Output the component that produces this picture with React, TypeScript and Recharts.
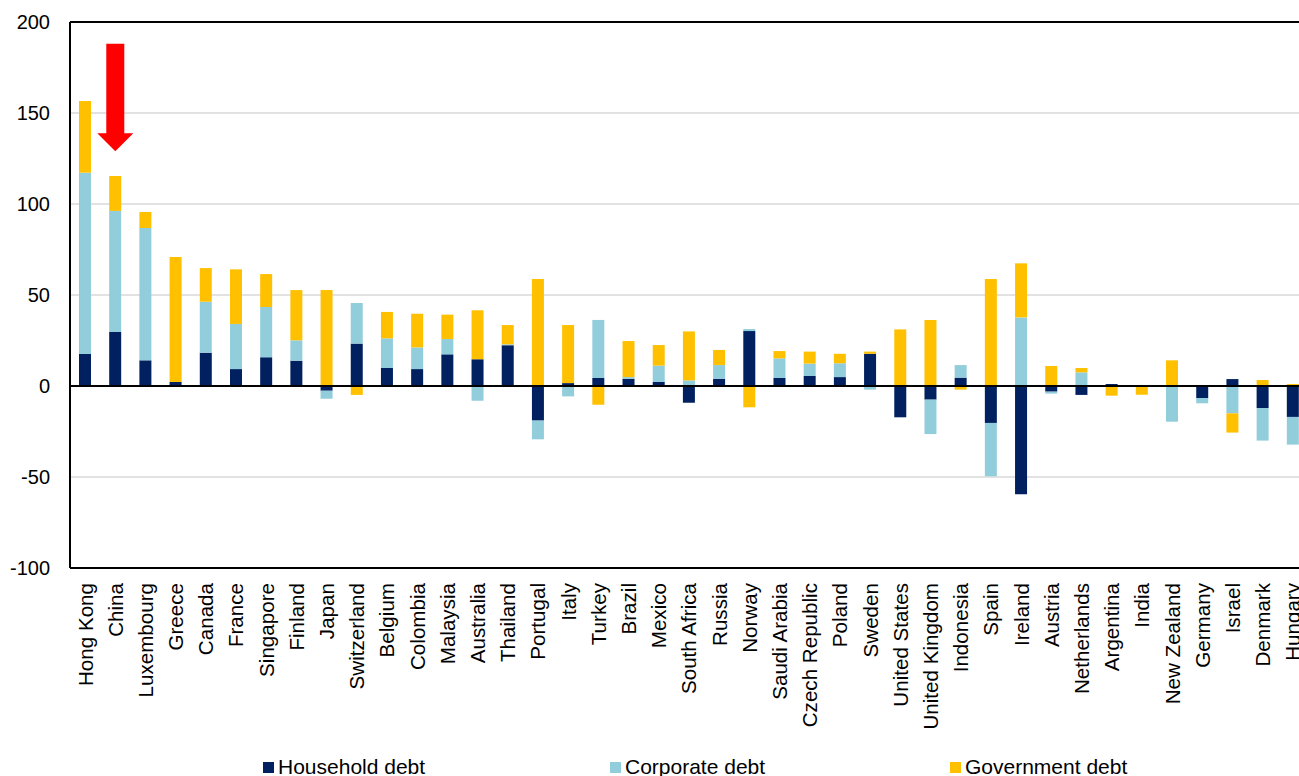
import React from 'react';
import {
  BarChart,
  Bar,
  XAxis,
  YAxis,
  CartesianGrid,
  ReferenceLine,
  ReferenceArea,
} from 'recharts';

// Change in debt-to-GDP ratio by sector, percentage points
const countries = [
  'Hong Kong', 'China', 'Luxembourg', 'Greece', 'Canada', 'France', 'Singapore', 'Finland',
  'Japan', 'Switzerland', 'Belgium', 'Colombia', 'Malaysia', 'Australia', 'Thailand',
  'Portugal', 'Italy', 'Turkey', 'Brazil', 'Mexico', 'South Africa', 'Russia', 'Norway',
  'Saudi Arabia', 'Czech Republic', 'Poland', 'Sweden', 'United States', 'United Kingdom',
  'Indonesia', 'Spain', 'Ireland', 'Austria', 'Netherlands', 'Argentina', 'India',
  'New Zealand', 'Germany', 'Israel', 'Denmark', 'Hungary',
];

const household = [
  17.6, 29.7, 14.1, 2.2, 18.3, 9.3, 15.8, 13.9, -2.6, 23.3, 9.9, 9.3, 17.4, 14.7, 22.4,
  -19.0, 1.6, 4.4, 4.0, 2.2, -9.2, 4.0, 30.2, 4.4, 5.5, 4.9, 17.7, -17.2, -7.5, 4.6,
  -20.3, -59.5, -3.1, -4.9, 1.1, 0.5, 0, -6.6, 3.8, -12.1, -17.0,
];

const corporate = [
  99.6, 66.5, 72.7, 0, 28.0, 24.8, 27.6, 11.2, -4.4, 22.3, 16.3, 11.9, 8.4, -8.1, 0.5,
  -10.3, -5.7, 31.9, 0.9, 9.0, 3.1, 7.5, 1.1, 10.8, 6.8, 7.6, -2.0, 0, -18.9, 6.9,
  -29.3, 37.7, -1.1, 7.5, 0, 0, -19.6, -2.9, -15.0, -17.9, -15.2,
];

const government = [
  39.4, 19.2, 8.8, 68.7, 18.5, 30.0, 18.1, 27.6, 52.7, -4.9, 14.5, 18.5, 13.4, 26.9, 10.6,
  58.8, 31.9, -10.3, 19.8, 11.3, 26.9, 8.3, -11.7, 4.0, 6.6, 5.2, 1.2, 31.1, 36.3, -2.0,
  58.8, 29.7, 11.0, 2.4, -5.3, -4.8, 14.1, 0, -10.6, 3.3, 1.1,
];

const yTicks = [-100, -50, 0, 50, 100, 150, 200];

// Highlight arrow over China: from top value down to tip value
const arrowCountry = 'China';
const arrowTop = 188;
const arrowTip = 129;

const seriesNames = ['Household debt', 'Corporate debt', 'Government debt'];
const seriesColors = ['#002060', '#92CDDC', '#FFC000'];

const data = countries.map((c, i) => ({
  country: c,
  household: household[i],
  corporate: corporate[i],
  government: government[i],
}));

const FONT = '"Liberation Sans", Arial, Helvetica, sans-serif';

const CountryTick = (props: any) => {
  const { x, y, payload } = props;
  return (
    <text
      x={x}
      y={y}
      transform={`rotate(-90, ${x}, ${y})`}
      textAnchor="end"
      dy="0.36em"
      fontSize={20.6}
      fontFamily={FONT}
      fill="#000"
    >
      {payload.value}
    </text>
  );
};

const Arrow = (props: any) => {
  const { x, y, width, height } = props;
  const cx = x + width / 2;
  const shaftHalf = 9;
  const headHalf = 18;
  const headLen = 18;
  const bottom = y + height;
  const neck = bottom - headLen;
  const pts = [
    [cx - shaftHalf, y],
    [cx + shaftHalf, y],
    [cx + shaftHalf, neck],
    [cx + headHalf, neck],
    [cx, bottom],
    [cx - headHalf, neck],
    [cx - shaftHalf, neck],
  ]
    .map((p) => p.join(','))
    .join(' ');
  return <polygon points={pts} fill="#FF0000" />;
};

const legendStarts = [263, 610, 950];

export default function App() {
  return (
    <div
      style={{
        position: 'absolute',
        left: 0,
        top: 0,
        width: 1299,
        height: 776,
        overflow: 'hidden',
        background: '#fff',
        fontFamily: FONT,
      }}
    >
      <BarChart
        width={1308}
        height={776}
        data={data}
        stackOffset="sign"
        barSize={12}
        margin={{ top: 22, right: 0, bottom: 0, left: 0 }}
      >
        <CartesianGrid vertical={false} stroke="#d9d9d9" strokeWidth={1.5} />
        <XAxis
          dataKey="country"
          interval={0}
          tickLine={false}
          tickSize={0}
          tickMargin={15}
          height={208}
          axisLine={{ stroke: '#000', strokeWidth: 2 }}
          tick={<CountryTick />}
        />
        <YAxis
          type="number"
          domain={[-100, 200]}
          ticks={yTicks}
          interval={0}
          width={70}
          tickLine={false}
          tickSize={0}
          tickMargin={20}
          axisLine={{ stroke: '#000', strokeWidth: 2 }}
          tick={{ fontSize: 20, fill: '#000', fontFamily: FONT }}
        />
        <ReferenceLine y={200} stroke="#000" strokeWidth={2} />
        <Bar dataKey="household" name={seriesNames[0]} stackId="a" fill={seriesColors[0]} isAnimationActive={false} />
        <Bar dataKey="corporate" name={seriesNames[1]} stackId="a" fill={seriesColors[1]} isAnimationActive={false} />
        <Bar dataKey="government" name={seriesNames[2]} stackId="a" fill={seriesColors[2]} isAnimationActive={false} />
        <ReferenceLine y={0} stroke="#000" strokeWidth={2} />
        <ReferenceArea
          x1={arrowCountry}
          x2={arrowCountry}
          y1={arrowTip}
          y2={arrowTop}
          shape={<Arrow />}
        />
      </BarChart>
      {seriesNames.map((name, i) => (
        <div
          key={name}
          style={{
            position: 'absolute',
            left: legendStarts[i],
            top: 755,
            height: 24,
            lineHeight: '24px',
            fontSize: 21,
            color: '#000',
            whiteSpace: 'nowrap',
            display: 'flex',
            alignItems: 'center',
          }}
        >
          <span
            style={{
              display: 'inline-block',
              width: 11,
              height: 11,
              background: seriesColors[i],
              marginRight: 4,
            }}
          />
          {name}
        </div>
      ))}
    </div>
  );
}
